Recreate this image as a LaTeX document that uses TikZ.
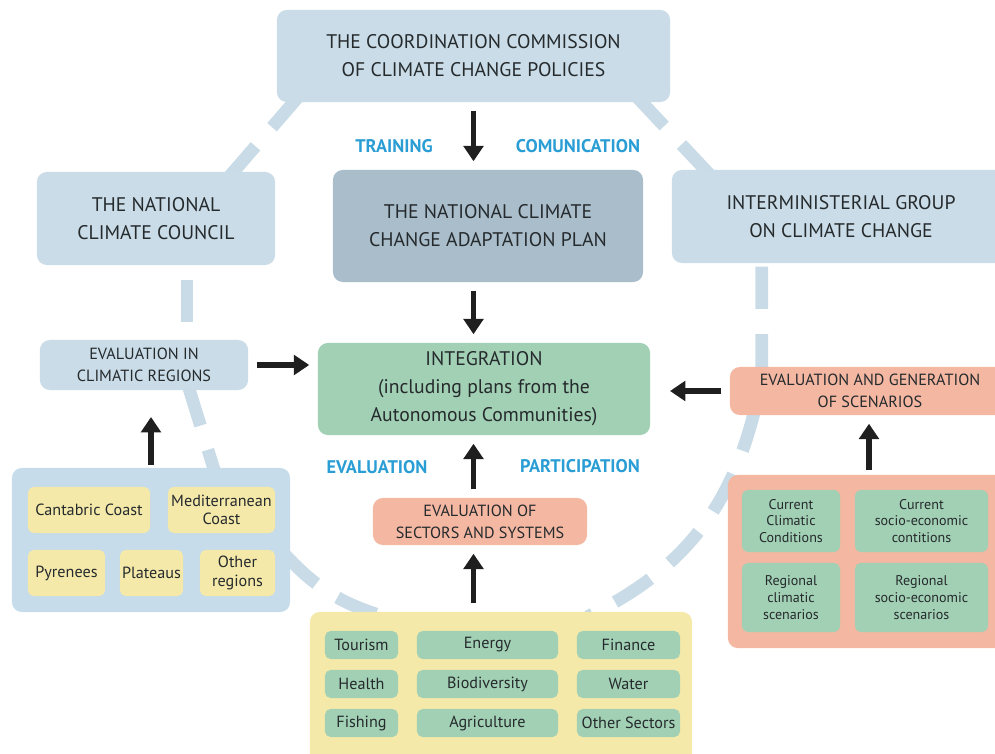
\documentclass[tikz,border=0pt]{standalone}
\usepackage{fontspec}
\setmainfont{PT Sans}
\usepackage{tikz}
\usetikzlibrary{arrows.meta,backgrounds,calc}
\definecolor{eBlue}{HTML}{CADCE7}
\definecolor{ePlan}{HTML}{A9BDCB}
\definecolor{eGreen}{HTML}{A2D0B4}
\definecolor{eSalmon}{HTML}{F3B7A2}
\definecolor{eYellow}{HTML}{F5E9AA}
\definecolor{eRegion}{HTML}{C6DCEA}
\definecolor{eRing}{HTML}{C8DBE7}
\definecolor{eCyan}{HTML}{2A9ED4}
\definecolor{eText}{HTML}{252A2D}
\tikzset{bx/.style={rectangle, rounded corners=7pt, inner sep=0pt, align=center, text=eText}}
\tikzset{big/.style={bx, font=\fontsize{14}{20}\selectfont}}
\tikzset{sml/.style={bx, font=\fontsize{11.5}{15.5}\selectfont}}
\tikzset{cl/.style={bx, rounded corners=4pt, font=\fontsize{11.5}{13}\selectfont}}
\tikzset{sc/.style={cl, font=\fontsize{10}{12}\selectfont}}
\tikzset{ar/.style={draw, line width=3.6pt, black!88, shorten <=6pt, shorten >=6pt,
  -{Triangle[width=14pt,length=11pt]}}}
\tikzset{ring/.style={draw, line width=9pt, eRing, dash pattern=on 30pt off 18pt}}
\tikzset{lab/.style={font=\bfseries\fontsize{13}{15}\selectfont, text=eCyan}}

\begin{document}
\begin{tikzpicture}[x=0.025cm,y=-0.025cm]
        \useasboundingbox (0,0) rectangle (995,754);
        %% top row
        \node (comm) at (473.5,56) [big, fill=eBlue, minimum width=9.825cm, minimum height=2.3cm]
            {THE COORDINATION COMMISSION\\OF CLIMATE CHANGE POLICIES};
        \node (council) at (156,218.5) [big, fill=eBlue, minimum width=5.95cm, minimum height=2.325cm]
            {THE NATIONAL\\CLIMATE COUNCIL};
        \node (plan) at (488,226) [big, fill=ePlan, minimum width=7.75cm, minimum height=2.8cm]
            {THE NATIONAL CLIMATE\\CHANGE ADAPTATION PLAN};
        \node (inter) at (841,216.5) [big, fill=eBlue, minimum width=8.45cm, minimum height=2.325cm]
            {INTERMINISTERIAL GROUP\\ON CLIMATE CHANGE};
        \node (train) at (394,146) [lab] {TRAINING};
        \node (comu) at (578,146) [lab] {COMUNICATION};
        %% middle row
        \node (evclim) at (144,365) [sml, fill=eBlue, minimum width=5.2cm, minimum height=1.25cm]
            {EVALUATION IN\\CLIMATIC REGIONS};
        \node (integ) at (484,389) [big, fill=eGreen, minimum width=8.3cm, minimum height=2.3cm]
            {INTEGRATION\\(including plans from the\\Autonomous Communities)};
        \node (scenev) at (870,391) [sml, fill=eSalmon, minimum width=7cm, minimum height=1.2cm]
            {EVALUATION AND GENERATION\\OF SCENARIOS};
        \node (evalu) at (377,467) [lab] {EVALUATION};
        \node (parti) at (580,466) [lab] {PARTICIPATION};
        \node (evsec) at (480,521.5) [sml, fill=eSalmon, minimum width=5.35cm, minimum height=1.175cm]
            {EVALUATION OF\\SECTORS AND SYSTEMS};
        %% regions
        \node (regions) at (151,540) [bx, fill=eRegion, minimum width=6.95cm, minimum height=3.6cm] {};
        \node (cant) at (89,510) [cl, fill=eYellow, minimum width=3.05cm, minimum height=1.15cm] {Cantabric Coast};
        \node (medi) at (221.5,510) [cl, fill=eYellow, minimum width=2.675cm, minimum height=1.15cm] {Mediterranean\\Coast};
        \node (pyre) at (66.5,573) [cl, fill=eYellow, minimum width=1.925cm, minimum height=1.15cm] {Pyrenees};
        \node (plat) at (151.5,573) [cl, fill=eYellow, minimum width=1.575cm, minimum height=1.15cm] {Plateaus};
        \node (othr) at (237.5,573) [cl, fill=eYellow, minimum width=1.875cm, minimum height=1.15cm] {Other\\regions};
        %% sectors
        \node (sectors) at (501,688.5) [bx, fill=eYellow, minimum width=9.55cm, minimum height=3.825cm] {};
        \node (tour) at (361.5,645) [cl, fill=eGreen, minimum width=1.825cm, minimum height=0.7cm] {Tourism};
        \node (heal) at (361.5,684) [cl, fill=eGreen, minimum width=1.825cm, minimum height=0.7cm] {Health};
        \node (fish) at (361.5,723) [cl, fill=eGreen, minimum width=1.825cm, minimum height=0.7cm] {Fishing};
        \node (ener) at (487.5,645) [cl, fill=eGreen, minimum width=3.525cm, minimum height=0.7cm] {Energy};
        \node (biod) at (487.5,684) [cl, fill=eGreen, minimum width=3.525cm, minimum height=0.7cm] {Biodiversity};
        \node (agri) at (487.5,723) [cl, fill=eGreen, minimum width=3.525cm, minimum height=0.7cm] {Agriculture};
        \node (fina) at (628.5,645) [cl, fill=eGreen, minimum width=2.575cm, minimum height=0.7cm] {Finance};
        \node (wate) at (628.5,684) [cl, fill=eGreen, minimum width=2.575cm, minimum height=0.7cm] {Water};
        \node (osec) at (628.5,723) [cl, fill=eGreen, minimum width=2.575cm, minimum height=0.7cm] {Other Sectors};
        %% scenarios
        \node (scenbox) at (869,561.5) [bx, fill=eSalmon, minimum width=7.05cm, minimum height=4.325cm] {};
        \node (curc) at (791,521) [sc, fill=eGreen, minimum width=2.45cm, minimum height=1.55cm] {Current\\Climatic\\Conditions};
        \node (curs) at (921.5,521) [sc, fill=eGreen, minimum width=3.325cm, minimum height=1.55cm] {Current\\socio-economic\\contitions};
        \node (regc) at (791,597.5) [sc, fill=eGreen, minimum width=2.45cm, minimum height=1.725cm] {Regional\\climatic\\scenarios};
        \node (regs) at (921.5,597.5) [sc, fill=eGreen, minimum width=3.325cm, minimum height=1.725cm] {Regional\\socio-economic\\scenarios};
        %% dashed ring
        \begin{pgfonlayer}{background}
            \draw [ring] ($(comm.south west)+(23,-7)$) to ($(council.north east)+(-47,6)$);
            \draw [ring] ($(comm.south east)+(-35,-7)$) to ($(inter.north west)+(40,7)$);
            \draw [ring, dash phase=-14pt] ($(council.south)+(31,-5)$) to ($(evclim.north)+(43,5)$);
            \draw [ring] ($(evclim.south)+(44,-5)$) to ($(regions.north)+(64,5)$);
            \draw [ring] ($(regions.east)+(-5,15)$) to [bend right=15] ($(sectors.north west)+(75,5)$);
            \draw [ring, dash phase=-6pt] ($(inter.south west)+(90,-5)$) to ($(scenev.north west)+(32,5)$);
            \draw [ring] ($(scenev.south west)+(25,-5)$) to [bend left=25] ($(sectors.north east)+(-105,5)$);
        \end{pgfonlayer}
        %% arrows
        \draw [ar] (comm.south) to (comm.south |- plan.north);
        \draw [ar] (comm.south |- plan.south) to (comm.south |- integ.north);
        \draw [ar] (evclim.east) to (evclim.east -| integ.west);
        \draw [ar, shorten >=14pt] (scenev.west) to (scenev.west -| integ.east);
        \draw [ar, shorten <=2pt, shorten >=19pt] (regions.north) to (regions.north |- evclim.south);
        \draw [ar] (evsec.north -| comm.south) to (integ.south -| comm.south);
        \draw [ar] (sectors.north -| comm.south) to (evsec.south -| comm.south);
        \draw [ar, shorten <=3pt] (scenbox.north) to (scenbox.north |- scenev.south);
\end{tikzpicture}
\end{document}
